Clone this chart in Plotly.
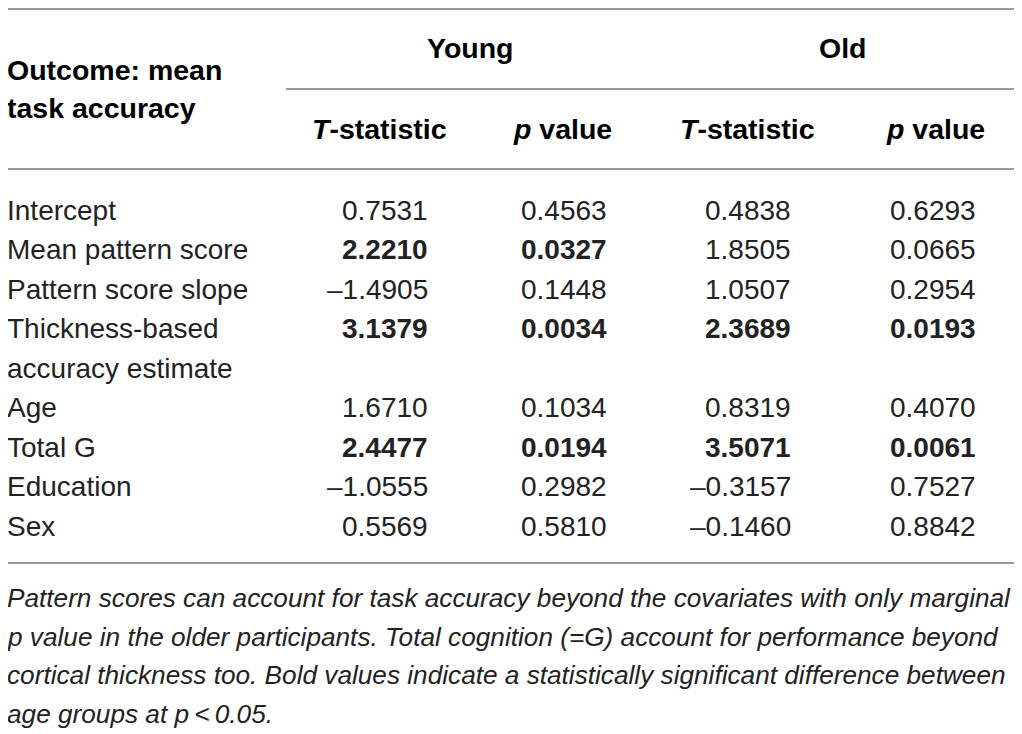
import plotly.graph_objects as go

# 表格数据
row_labels = ["Intercept", "Mean pattern score", "Pattern score slope",
              "Thickness-based<br>accuracy estimate", "Age", "Total G",
              "Education", "Sex"]
t_young = [0.7531, 2.2210, -1.4905, 3.1379, 1.6710, 2.4477, -1.0555, 0.5569]
p_young = [0.4563, 0.0327, 0.1448, 0.0034, 0.1034, 0.0194, 0.2982, 0.5810]
t_old = [0.4838, 1.8505, 1.0507, 2.3689, 0.8319, 3.5071, -0.3157, -0.1460]
p_old = [0.6293, 0.0665, 0.2954, 0.0193, 0.4070, 0.0061, 0.7527, 0.8842]
sig_young = [0, 1, 0, 1, 0, 1, 0, 0]
sig_old = [0, 0, 0, 1, 0, 1, 0, 0]

group_labels = ["Young", "Old"]
sub_labels = ["<i>T</i>-statistic", "<i>p</i> value", "<i>T</i>-statistic", "<i>p</i> value"]
stub_header = "Outcome: mean<br>task accuracy"
caption = ("Pattern scores can account for task accuracy beyond the covariates with only marginal<br>"
           "p value in the older participants. Total cognition (=G) account for performance beyond<br>"
           "cortical thickness too. Bold values indicate a statistically significant difference between<br>"
           "age groups at p\u2009<\u20090.05.")

W, H = 1022, 734
OFF = 8  # 页面 body 的默认边距
FONT = "Helvetica Neue, Liberation Sans, Arial, sans-serif"
TXT = "#222222"
LINE = "#9a9a9a"

# 布局位置（像素，相对于窗口左上角）
left_x = OFF
col_right = [430, 609, 793, 978]
sub_center = [379, 562, 747, 935]
group_center = [470, 843]
row_y0, row_dy = 210, 39.5
cap_y0, cap_dy = 598, 38.5


def fmt(v, bold):
    s = f"{v:.4f}".replace("-", "\u2013")
    return f"<b>{s}</b>" if bold else s


ann = []


def add(x, y, text, anchor="left", size=28, color=TXT, shift=0):
    ann.append(dict(x=x, y=y, xref="x", yref="y", text=text, showarrow=False,
                    xanchor=anchor, yanchor="middle", xshift=shift,
                    font=dict(family=FONT, size=size, color=color)))


# 表头
for i, line in enumerate(stub_header.split("<br>")):
    add(left_x, 70 + i * 38, f"<b>{line}</b>", size=28.5, color="#000", shift=-3)
for g, xc in zip(group_labels, group_center):
    add(xc, 48, f"<b>{g}</b>", anchor="center", size=28.5, color="#000")
for s, xc in zip(sub_labels, sub_center):
    add(xc, 129, f"<b>{s}</b>", anchor="center", size=28.5, color="#000")

# 数据行
slot = 0
for i, lab in enumerate(row_labels):
    y = row_y0 + slot * row_dy
    lines = lab.split("<br>")
    for j, line in enumerate(lines):
        add(left_x, y + j * row_dy, line, shift=-3)
    vals = [fmt(t_young[i], sig_young[i]), fmt(p_young[i], sig_young[i]),
            fmt(t_old[i], sig_old[i]), fmt(p_old[i], sig_old[i])]
    for v, xr in zip(vals, col_right):
        add(xr, y, v, anchor="right")
    slot += len(lines)

# 注释
for i, line in enumerate(caption.split("<br>")):
    add(left_x, cap_y0 + i * cap_dy, f"<i>{line}</i>", size=26.2, shift=-3)

# 横线
shapes = []
for x0, yy in [(0, 9), (286, 89), (0, 169), (0, 563)]:
    shapes.append(dict(type="line", xref="x", yref="y", x0=x0, x1=W, y0=yy, y1=yy,
                       line=dict(color=LINE, width=2)))

fig = go.Figure(go.Scatter(x=[OFF, W], y=[OFF, H], mode="markers", marker=dict(opacity=0),
                           hoverinfo="skip", showlegend=False))
fig.update_layout(
    width=W - OFF, height=H - OFF,
    margin=dict(l=0, r=0, t=0, b=0),
    paper_bgcolor="white", plot_bgcolor="white",
    xaxis=dict(range=[OFF, W], visible=False, fixedrange=True),
    yaxis=dict(range=[H, OFF], visible=False, fixedrange=True),
    annotations=ann,
    shapes=shapes,
)

fig.write_html("out.html")
